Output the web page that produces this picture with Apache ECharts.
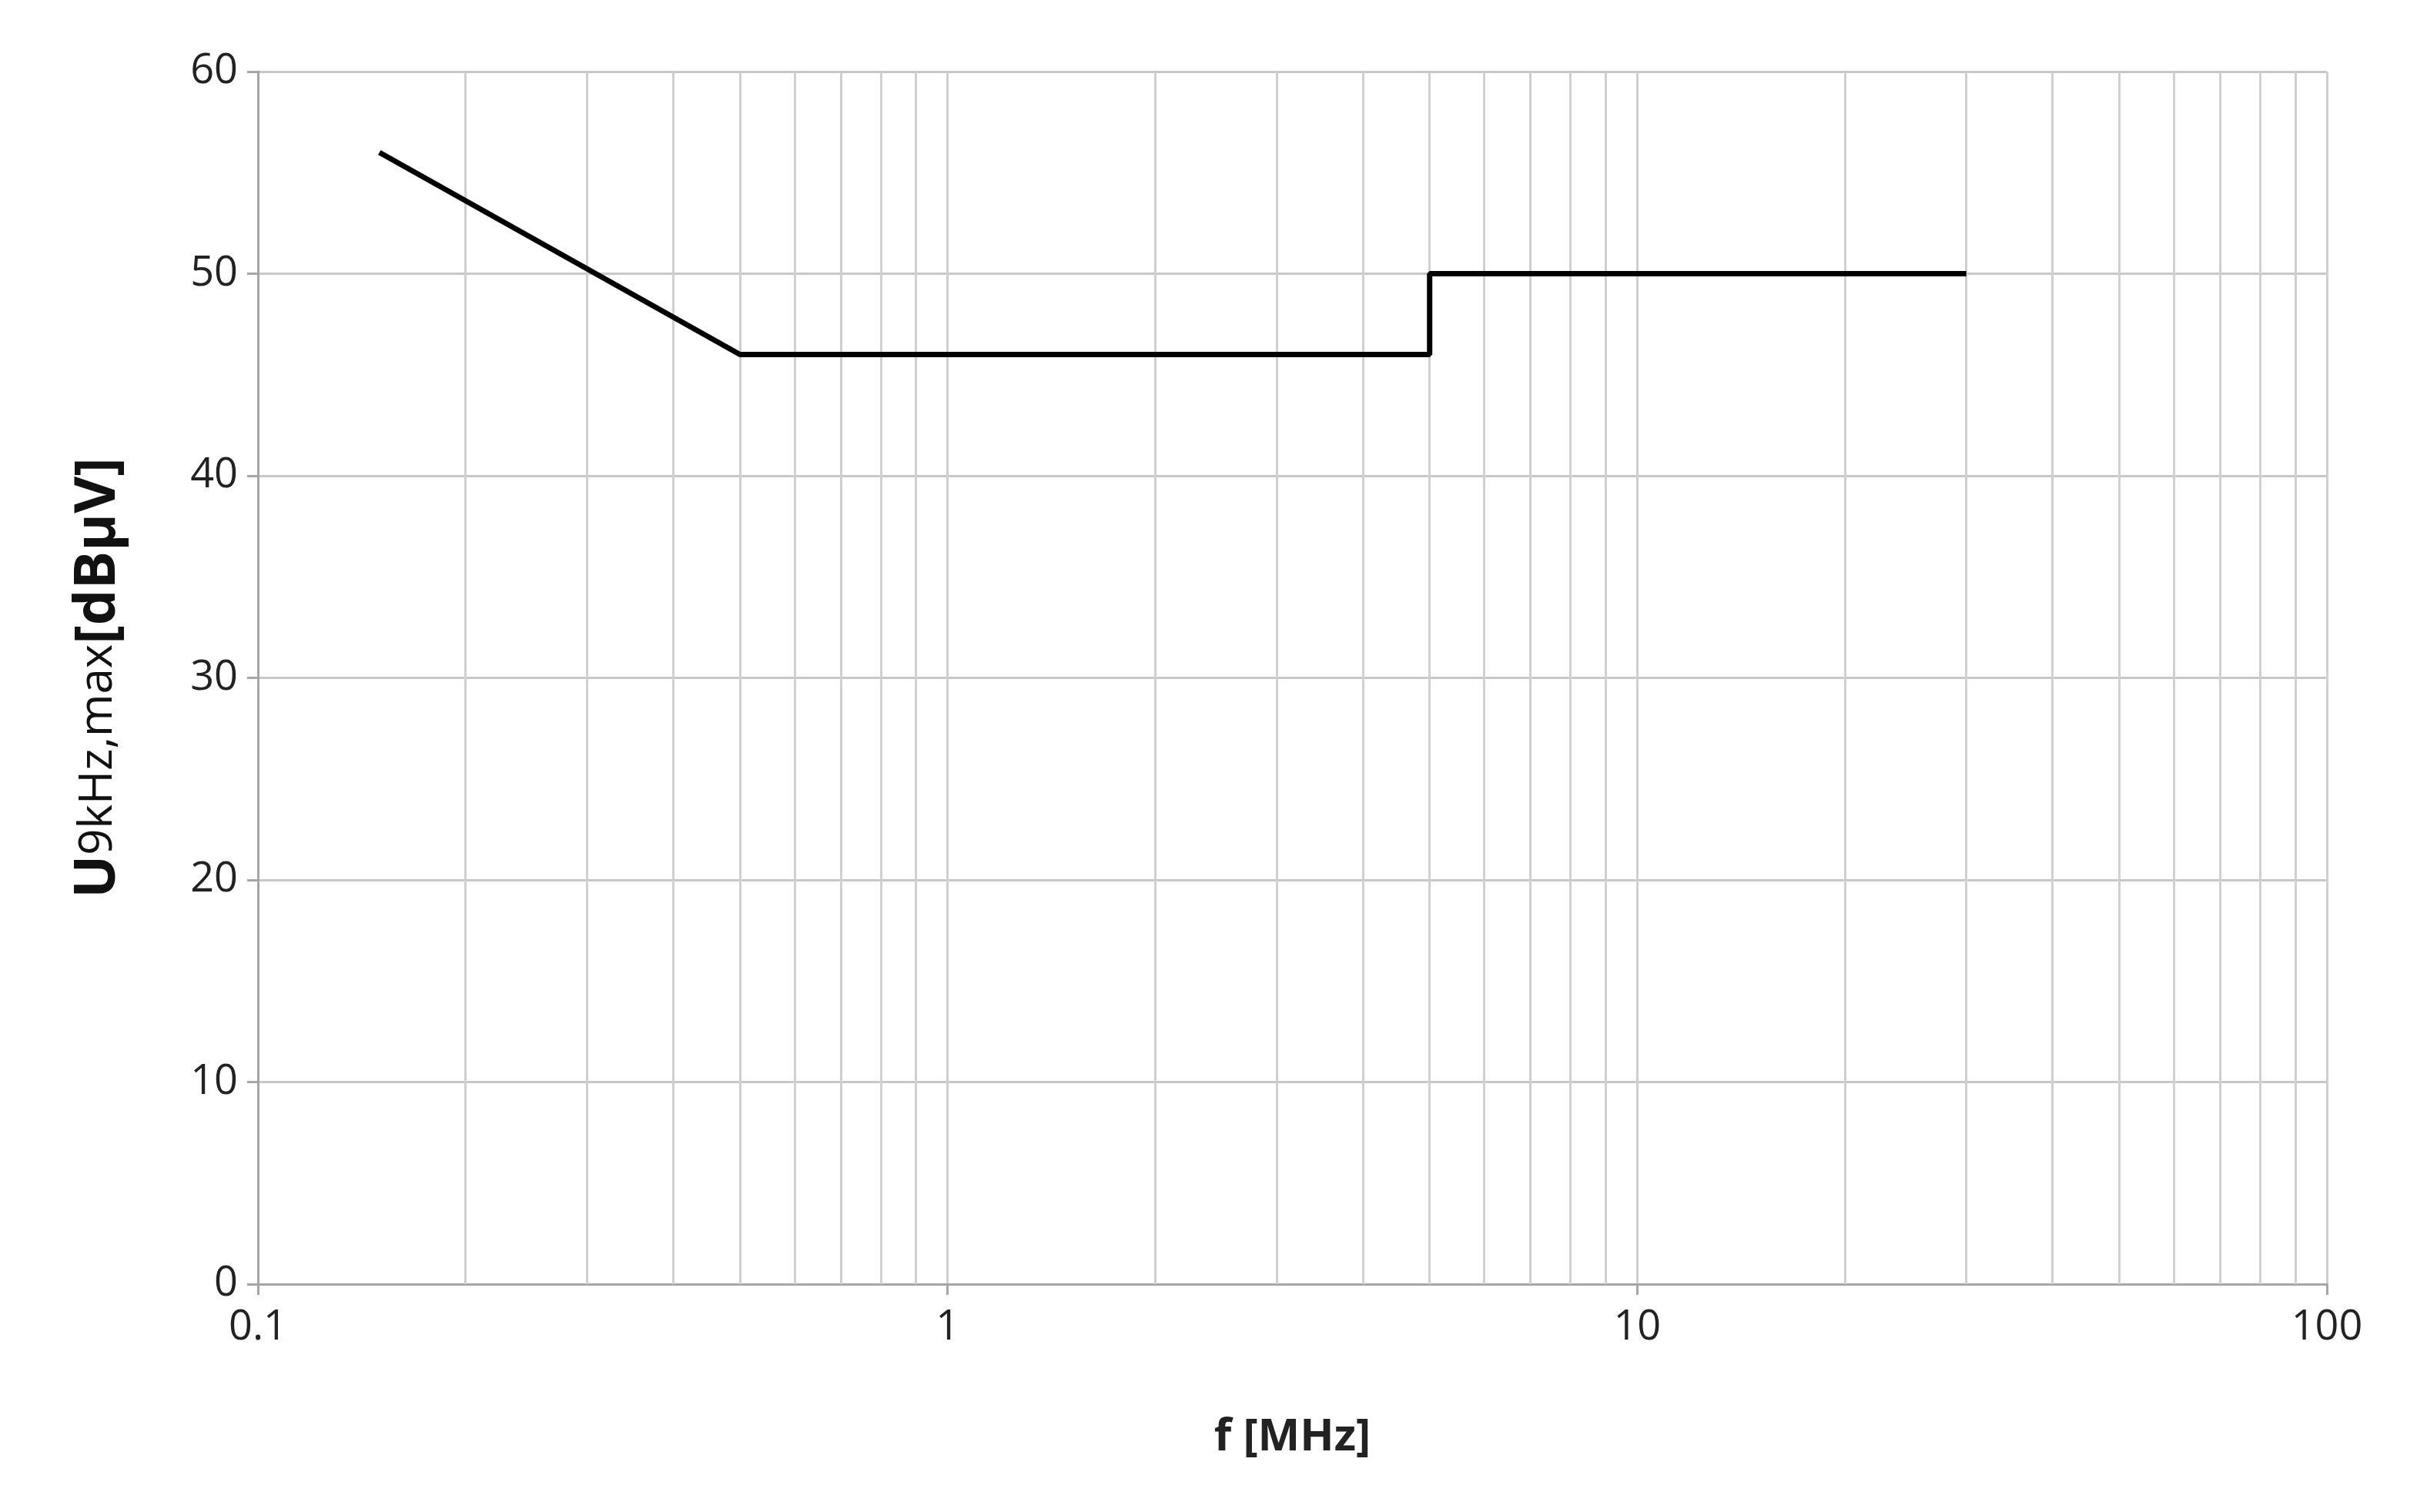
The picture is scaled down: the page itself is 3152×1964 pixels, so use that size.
<!DOCTYPE html>
<html><head><meta charset="utf-8">
<script src="https://cdn.jsdelivr.net/npm/echarts@6/dist/echarts.min.js"></script>
<style>html,body{margin:0;padding:0;background:#fff}#c{width:3152px;height:1964px}</style>
</head><body><div id="c"></div>
<script>
const freqMHz = [0.15, 0.5, 5, 5, 30];
const limitDbuV = [56, 46, 46, 50, 50];
const minorGridFreqs = [0.2,0.3,0.4,0.5,0.6,0.7,0.8,0.9,2,3,4,5,6,7,8,9,20,30,40,50,60,70,80,90];
const yTicks = [0,10,20,30,40,50,60];

const chart = echarts.init(document.getElementById('c'));
const font = '"Open Sans", "Noto Sans", sans-serif';
chart.setOption({
  backgroundColor:'#fff',
  animation:false,
  grid:{left:335, right:130, top:93, bottom:296},
  xAxis:{
    type:'log', logBase:10, min:0.1, max:100,
    name:'f [MHz]', nameLocation:'middle', nameGap:170,
    nameTextStyle:{fontFamily:font, fontSize:58, fontWeight:'bold', color:'#222'},
    axisLine:{lineStyle:{color:'#a6a6a6', width:3}},
    axisTick:{show:true, length:14, lineStyle:{color:'#a6a6a6', width:3}},
    axisLabel:{fontFamily:font, fontSize:54, color:'#222', margin:30,
      formatter:v=>String(+v.toPrecision(3))},
    splitLine:{show:true, lineStyle:{color:'#d0d0d0', width:3}}
  },
  yAxis:{
    type:'value', min:0, max:60, interval:10,
    name:'{u|U}{s|9kHz,max}{b|[dBμV]}', nameLocation:'middle', nameGap:170, nameRotate:90,
    nameTextStyle:{rich:{
      u:{fontFamily:font, fontSize:74, fontWeight:'bold', color:'#111'},
      s:{fontFamily:font, fontSize:60, color:'#111'},
      b:{fontFamily:font, fontSize:74, fontWeight:'bold', color:'#111'}
    }},
    axisLine:{show:true, lineStyle:{color:'#a6a6a6', width:3}},
    axisTick:{show:true, inside:false, length:14, lineStyle:{color:'#a6a6a6', width:3}},
    axisLabel:{fontFamily:font, fontSize:54, color:'#222', margin:26},
    splitLine:{show:true, lineStyle:{color:'#c8c8c8', width:3}}
  },
  series:[
    {type:'line', data:[], silent:true,
     markLine:{silent:true, symbol:'none', label:{show:false},
       lineStyle:{color:'#d0d0d0', width:3, type:'solid'},
       data:minorGridFreqs.map(f=>({xAxis:f}))}},
    {type:'line', data:freqMHz.map((f,i)=>[f,limitDbuV[i]]), symbol:'none',
     lineStyle:{color:'#000', width:7}, z:5}
  ]
});
</script></body></html>
